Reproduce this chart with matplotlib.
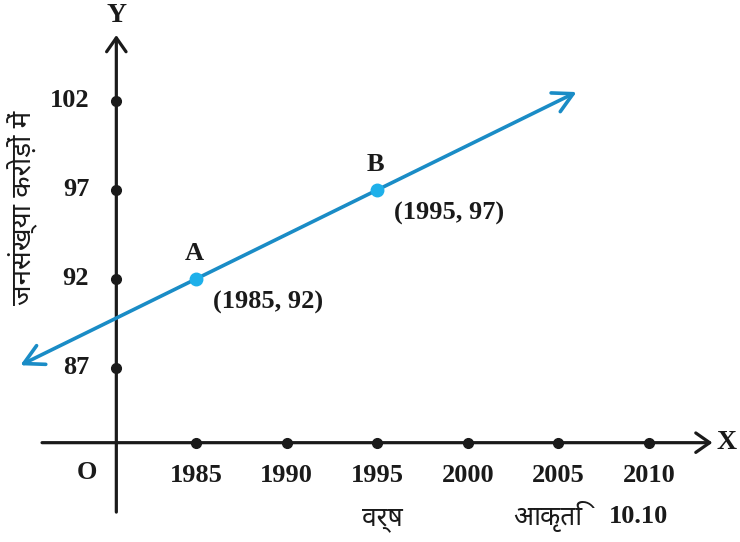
import numpy as np
import matplotlib
matplotlib.use("Agg")
import matplotlib.pyplot as plt
from matplotlib import font_manager

# ---- data ----
years = [1985, 1990, 1995, 2000, 2005, 2010]
pop_ticks = [87, 92, 97, 102]
pt_names = ["A", "B"]
pt_x = [1985, 1995]
pt_y = [92, 97]
line_x = [1975.3, 2006.0]          # extent of drawn line
slope = (pt_y[1] - pt_y[0]) / (pt_x[1] - pt_x[0])

# where the (broken) axes sit in data units
x0, y0 = 1980.6, 82.8

# ---- fonts ----
def find_deva():
    names = ["Noto Sans Devanagari", "Noto Serif Devanagari", "Lohit Devanagari",
             "FreeSerif", "FreeSans", "Mangal", "Gargi", "Kalimati"]
    have = {f.name for f in font_manager.fontManager.ttflist}
    for n in names:
        if n in have:
            return n
    for f in font_manager.fontManager.ttflist:
        if "devanagari" in f.name.lower() or "hindi" in f.name.lower():
            return f.name
    return None

deva = find_deva()
hfam = ([deva] if deva else []) + ["DejaVu Sans"]
serif = "Liberation Serif"
fs = 19

fig = plt.figure(figsize=(7.4, 5.42), dpi=100)
ax = fig.add_axes([0, 0, 1, 1])
ax.set_xlim(1974.18, 2015.02)
ax.set_ylim(77.22, 107.67)
ax.axis("off")

blk = "#1a1a1a"
# axes with arrows
ax.annotate("", xy=(2013.5, y0), xytext=(1976.5, y0),
            arrowprops=dict(arrowstyle="->,head_length=1.0,head_width=0.7", lw=2.3, color=blk,
                            shrinkA=0, shrinkB=0))
ax.annotate("", xy=(x0, 105.7), xytext=(x0, 78.9),
            arrowprops=dict(arrowstyle="->,head_length=1.0,head_width=0.7", lw=2.3, color=blk,
                            shrinkA=0, shrinkB=0))

ax.plot(years, [y0] * len(years), "o", color=blk, ms=7, zorder=3)
ax.plot([x0] * len(pop_ticks), pop_ticks, "o", color=blk, ms=7, zorder=3)

for yr in years:
    ax.text(yr, y0 - 1.85, str(yr), ha="center", va="center", fontsize=fs,
            fontweight="bold", family=serif, color=blk)
for p in pop_ticks:
    ax.text(x0 - 1.5, p, str(p), ha="right", va="center", fontsize=fs,
            fontweight="bold", family=serif, color=blk)

ax.text(2014.3, y0, "X", ha="center", va="center", fontsize=20,
        fontweight="bold", family=serif, color=blk)
ax.text(x0, 106.8, "Y", ha="center", va="center", fontsize=20,
        fontweight="bold", family=serif, color=blk)
ax.text(x0 - 1.6, y0 - 1.7, "O", ha="center", va="center", fontsize=fs,
        fontweight="bold", family=serif, color=blk)

# the line through A and B
lx = np.array(line_x)
ly = pt_y[0] + slope * (lx - pt_x[0])
ax.annotate("", xy=(lx[1], ly[1]), xytext=(lx[0], ly[0]),
            arrowprops=dict(arrowstyle="<->,head_length=1.4,head_width=0.75", lw=2.6,
                            color="#1a8cc6", shrinkA=0, shrinkB=0))
ax.plot(pt_x, pt_y, "o", color="#1eb0ea", ms=9, zorder=4)

for nm, px, py in zip(pt_names, pt_x, pt_y):
    ax.text(px - 0.1, py + 1.45, nm, ha="center", va="center", fontsize=fs,
            fontweight="bold", family=serif, color=blk)
    ax.text(px + 0.95, py - 1.3, "(%d, %d)" % (px, py), ha="left", va="center",
            fontsize=fs, fontweight="bold", family=serif, color=blk)

# Hindi labels
ax.text(1975.4, 96.0, "जनसंख्या करोड़ों में", rotation=90, ha="center", va="center",
        fontsize=20, fontweight="bold", family=hfam, color=blk)
ax.text(1995.3, 78.55, "वर्ष", ha="center", va="center", fontsize=19,
        fontweight="bold", family=hfam, color=blk)
ax.text(2004.4, 78.65, "आकृति", ha="center", va="center", fontsize=19,
        fontweight="bold", style="italic", family=hfam, color=blk)
ax.text(2009.4, 78.65, "10.10", ha="center", va="center", fontsize=fs,
        fontweight="bold", family=serif, color=blk)

fig.savefig("out.png", dpi=100, facecolor="white")
